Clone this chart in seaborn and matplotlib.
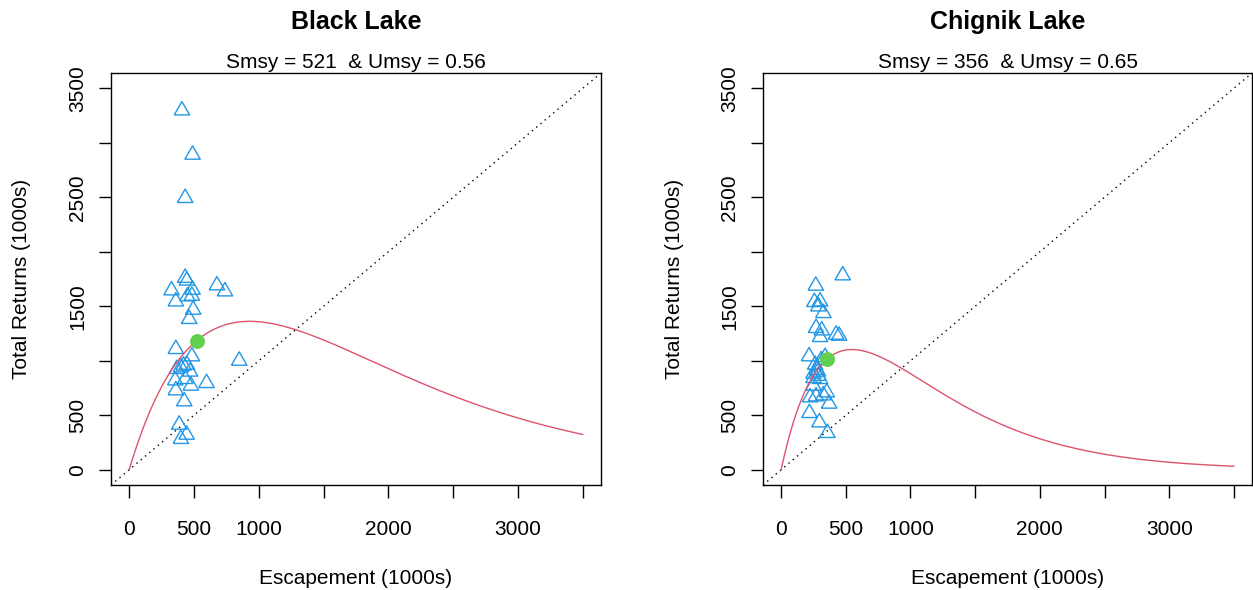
import numpy as np
import pandas as pd
import matplotlib
matplotlib.use('Agg')
import matplotlib.pyplot as plt
import seaborn as sns

sns.set_style('white')
plt.rcParams['font.family'] = ['Liberation Sans', 'DejaVu Sans']
plt.rcParams['text.color'] = 'black'
plt.rcParams['axes.labelcolor'] = 'black'

# Black Lake brood table (1000s of fish)
black_esc = [407, 489, 432, 432, 445, 327, 489, 484, 450, 360, 677, 739, 494, 463,
             360, 484, 849, 445, 399, 368, 432, 355, 476, 597, 360, 425, 386, 443, 399,
             420, 470]
black_ret = [3296, 2890, 2493, 1760, 1735, 1645, 1651, 1596, 1590, 1544, 1691, 1636, 1468, 1383,
             1107, 1040, 1000, 963, 939, 924, 832, 819, 771, 795, 728, 627, 413, 321, 282,
             955, 900]

# Chignik Lake brood table (1000s of fish)
chig_esc = [476, 268, 257, 301, 288, 327, 270, 314, 301, 425, 448, 216, 340, 263,
            276, 250, 288, 250, 301, 250, 353, 327, 270, 224, 371, 219, 296, 358, 310, 285]
chig_ret = [1783, 1688, 1538, 1544, 1498, 1437, 1300, 1278, 1217, 1239, 1229, 1040, 1034, 963,
            917, 881, 862, 841, 832, 771, 709, 682, 673, 664, 606, 520, 434, 337, 1005, 900]

# Ricker fits: R = S * exp(lnalpha - beta * S)
lakes = ['Black Lake', 'Chignik Lake']
lnalpha = [1.381, 1.700]
beta = [1.075e-3, 1.826e-3]
smsy = [521, 356]
umsy = [0.56, 0.65]

BLUE = '#2297E6'
RED = '#DF536B'
GREEN = '#61D04F'
FS = 15

tri = [(-1, -0.577), (1, -0.577), (0, 1.155), (-1, -0.577)]

fig = plt.figure(figsize=(12.53, 5.90), dpi=100)
W, H = 1253, 590
rects = [(111, 73, 490, 412), (763, 73, 489, 412)]
data = [(black_esc, black_ret), (chig_esc, chig_ret)]

for i, (x0, y0, w, h) in enumerate(rects):
    ax = fig.add_axes([x0 / W, 1 - (y0 + h) / H, w / W, h / H])
    esc, ret = data[i]
    df = pd.DataFrame({'S': esc, 'R': ret})
    sns.scatterplot(data=df, x='S', y='R', ax=ax, marker=tri, s=165,
                    facecolor='none', edgecolor=BLUE, linewidth=1.0, zorder=3)

    # fitted curve
    s_grid = np.linspace(0, 3500, 300)
    curve = pd.DataFrame({'S': s_grid, 'R': s_grid * np.exp(lnalpha[i] - beta[i] * s_grid)})
    sns.lineplot(data=curve, x='S', y='R', ax=ax, color=RED, linewidth=1.0, zorder=4)

    # Smsy point
    r_msy = smsy[i] * np.exp(lnalpha[i] - beta[i] * smsy[i])
    ax.scatter([smsy[i]], [r_msy], s=115, color=GREEN, linewidth=0, zorder=5)

    # 1:1 line
    ax.axline((0, 0), slope=1, color='black', linewidth=1.0, dashes=(1, 3), zorder=2)

    ax.set_xlim(-140, 3640)
    ax.set_ylim(-140, 3640)
    ticks = np.arange(0, 3501, 500)
    ax.set_xticks(ticks)
    ax.set_xticklabels(['0', '500', '1000', '', '2000', '', '3000', ''])
    ax.set_yticks(ticks)
    ax.set_yticklabels(['0', '500', '', '1500', '', '2500', '', '3500'])
    ax.tick_params(axis='both', direction='out', length=9, width=1.0, labelsize=FS,
                   color='black', labelcolor='black', bottom=True, left=True)
    ax.tick_params(axis='x', pad=16)
    ax.tick_params(axis='y', pad=8)
    for lab in ax.get_yticklabels():
        lab.set_rotation(90)
        lab.set_va('center')
    for sp in ax.spines.values():
        sp.set_visible(True)
        sp.set_color('black')
        sp.set_linewidth(1.0)

    ax.set_xlabel('Escapement (1000s)', fontsize=FS)
    ax.set_ylabel('Total Returns (1000s)', fontsize=FS)
    ax.xaxis.set_label_coords(0.5, -93 / h)
    ax.xaxis.label.set_va('center')
    ax.yaxis.set_label_coords(-89 / w, 0.5)
    ax.yaxis.label.set_va('center')

    ax.text(0.5, 1 + 51 / h, lakes[i], transform=ax.transAxes, ha='center', va='center',
            fontsize=18, fontweight='bold', color='black')
    ax.text(0.5, 1 + 11 / h, f'Smsy = {smsy[i]}  & Umsy = {umsy[i]:.2f}', transform=ax.transAxes,
            ha='center', va='center', fontsize=FS, color='black')

plt.savefig('out.png', dpi=100)
